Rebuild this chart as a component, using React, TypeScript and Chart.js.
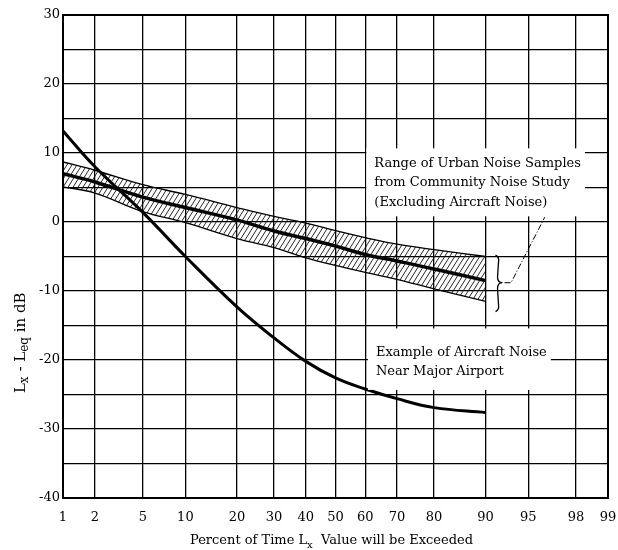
import React, { useEffect, useRef } from 'react';
import { Chart, LinearScale, registerables } from 'chart.js';

Chart.register(...registerables);

// ---- data ----
const xTickPercents = [1, 2, 5, 10, 20, 30, 40, 50, 60, 70, 80, 90, 95, 98, 99];
const percents = [1, 2, 5, 10, 20, 30, 40, 50, 60, 70, 80, 90];
const urbanUpper = [8.7, 7.5, 5.4, 4.0, 2.1, 0.8, -0.15, -1.25, -2.25, -3.2, -4.0, -5.0];
const urbanLower = [5.1, 4.2, 1.5, -0.1, -2.4, -3.7, -5.2, -6.3, -7.3, -8.3, -9.7, -11.5];
const urbanMedian = [7.0, 5.8, 3.6, 2.1, 0.3, -1.3, -2.4, -3.5, -4.7, -5.65, -6.8, -8.5];
const aircraft = [13.2, 8.0, 1.4, -5.0, -12.3, -16.8, -20.2, -22.6, -24.2, -25.6, -26.9, -27.6];

const urbanNote = ['Range of Urban Noise Samples', 'from Community Noise Study', '(Excluding Aircraft Noise)'];
const aircraftNote = ['Example of Aircraft Noise', 'Near Major Airport'];
const xTitle = [{ t: 'Percent of Time L' }, { t: 'x', sub: true }, { t: '  Value will be Exceeded' }];
const yTitle = [{ t: 'L' }, { t: 'x', sub: true }, { t: ' - L' }, { t: 'eq', sub: true }, { t: ' in dB' }];

// annotation anchors in data space (percent, dB)
const urbanNoteAt = { x: 63, y: 8.5 };
const aircraftNoteAt = { x: 63.5, y: -18.9 };
const brace = { x: 91.8, top: -4.8, bottom: -13.0, tip: -8.8 };
const leader = [{ x: 93.3, y: -8.8 }, { x: 96.3, y: 0.7 }];

const FONT = "'DejaVu Serif', 'Liberation Serif', serif";

// inverse normal CDF (Acklam)
function probit(p: number): number {
  const a = [-3.969683028665376e1, 2.209460984245205e2, -2.759285104469687e2, 1.38357751867269e2, -3.066479806614716e1, 2.506628277459239];
  const b = [-5.447609879822406e1, 1.615858368580409e2, -1.556989798598866e2, 6.680131188771972e1, -1.328068155288572e1];
  const c = [-7.784894002430293e-3, -3.223964580411365e-1, -2.400758277161838, -2.549732539343734, 4.374664141464968, 2.938163982698783];
  const d = [7.784695709041462e-3, 3.224671290700398e-1, 2.445134137142996, 3.754408661907416];
  const pl = 0.02425;
  if (p < pl) {
    const q = Math.sqrt(-2 * Math.log(p));
    return (((((c[0] * q + c[1]) * q + c[2]) * q + c[3]) * q + c[4]) * q + c[5]) / ((((d[0] * q + d[1]) * q + d[2]) * q + d[3]) * q + 1);
  }
  if (p > 1 - pl) {
    const q = Math.sqrt(-2 * Math.log(1 - p));
    return -(((((c[0] * q + c[1]) * q + c[2]) * q + c[3]) * q + c[4]) * q + c[5]) / ((((d[0] * q + d[1]) * q + d[2]) * q + d[3]) * q + 1);
  }
  const q = p - 0.5;
  const r = q * q;
  return ((((((a[0] * r + a[1]) * r + a[2]) * r + a[3]) * r + a[4]) * r + a[5]) * q) / (((((b[0] * r + b[1]) * r + b[2]) * r + b[3]) * r + b[4]) * r + 1);
}

class ProbabilityScale extends LinearScale {
  static id = 'probability';
  static defaults = {};
  _zMin = 0;
  _zMax = 1;
  buildTicks() {
    return xTickPercents.map((v) => ({ value: v }));
  }
  configure() {
    super.configure();
    this._zMin = probit(this.min / 100);
    this._zMax = probit(this.max / 100);
  }
  getPixelForValue(value: number) {
    const z = probit(value / 100);
    return this.getPixelForDecimal((z - this._zMin) / (this._zMax - this._zMin));
  }
  getValueForPixel(pixel: number) {
    const target = this._zMin + this.getDecimalForPixel(pixel) * (this._zMax - this._zMin);
    let lo = 0.0001, hi = 0.9999;
    for (let i = 0; i < 50; i++) {
      const mid = (lo + hi) / 2;
      if (probit(mid) < target) lo = mid; else hi = mid;
    }
    return ((lo + hi) / 2) * 100;
  }
}
Chart.register(ProbabilityScale as any);

function makeHatch(): CanvasPattern | string {
  const w = 5, h = 8;
  const c = document.createElement('canvas');
  c.width = w; c.height = h;
  const g = c.getContext('2d');
  if (!g) return 'rgba(0,0,0,0.3)';
  g.strokeStyle = '#111';
  g.lineWidth = 0.9;
  g.beginPath();
  for (const dx of [-w, 0, w]) {
    g.moveTo(dx, h);
    g.lineTo(dx + w, 0);
  }
  g.stroke();
  return g.createPattern(c, 'repeat') || 'rgba(0,0,0,0.3)';
}

type Part = { t: string; sub?: boolean };
function richWidth(ctx: CanvasRenderingContext2D, parts: Part[], size: number) {
  let w = 0;
  for (const p of parts) {
    ctx.font = p.sub ? `${size - 3}px ${FONT}` : `${size}px ${FONT}`;
    w += ctx.measureText(p.t).width;
  }
  return w;
}
function drawRich(ctx: CanvasRenderingContext2D, parts: Part[], cx: number, cy: number, size: number) {
  const total = richWidth(ctx, parts, size);
  let x = cx - total / 2;
  ctx.textAlign = 'left';
  ctx.textBaseline = 'middle';
  for (const p of parts) {
    ctx.font = p.sub ? `${size - 3}px ${FONT}` : `${size}px ${FONT}`;
    ctx.fillText(p.t, x, p.sub ? cy + 4 : cy);
    x += ctx.measureText(p.t).width;
  }
}

const notesPlugin = {
  id: 'notes',
  afterDraw(chart: any) {
    const { ctx, chartArea, scales } = chart;
    const xs = scales.x, ys = scales.y;
    ctx.save();
    // frame
    ctx.strokeStyle = '#000';
    ctx.lineWidth = 2;
    ctx.strokeRect(chartArea.left, chartArea.top, chartArea.right - chartArea.left, chartArea.bottom - chartArea.top);

    ctx.fillStyle = '#000';
    const lh = 19.5;
    const drawNote = (lines: string[], at: { x: number; y: number }, padTop: number, padBottom: number) => {
      const x0 = xs.getPixelForValue(at.x);
      const y0 = ys.getPixelForValue(at.y);
      ctx.font = `13px ${FONT}`;
      const w = Math.max(...lines.map((l) => ctx.measureText(l).width));
      ctx.fillStyle = '#fff';
      ctx.fillRect(x0 - 8, y0 - padTop, w + 12, (lines.length - 1) * lh + padTop + padBottom);
      ctx.fillStyle = '#000';
      ctx.textAlign = 'left';
      ctx.textBaseline = 'middle';
      lines.forEach((l, i) => ctx.fillText(l, x0, y0 + i * lh));
    };
    drawNote(urbanNote, urbanNoteAt, 15, 14);
    drawNote(aircraftNote, aircraftNoteAt, 24, 18);

    // curly brace
    const bx = xs.getPixelForValue(brace.x);
    const bt = ys.getPixelForValue(brace.top);
    const bb = ys.getPixelForValue(brace.bottom);
    const bm = ys.getPixelForValue(brace.tip);
    ctx.strokeStyle = '#000';
    ctx.lineWidth = 1.3;
    ctx.beginPath();
    ctx.moveTo(bx - 3, bt);
    ctx.quadraticCurveTo(bx + 1, bt + 2, bx, bt + 7);
    ctx.lineTo(bx - 1, bm - 6);
    ctx.quadraticCurveTo(bx - 1, bm, bx + 4, bm);
    ctx.quadraticCurveTo(bx - 1, bm, bx - 1, bm + 6);
    ctx.lineTo(bx, bb - 7);
    ctx.quadraticCurveTo(bx + 1, bb - 2, bx - 3, bb);
    ctx.stroke();

    // leader line
    const lx0 = bx + 6;
    const l1x = xs.getPixelForValue(leader[0].x), l1y = ys.getPixelForValue(leader[0].y);
    const l2x = xs.getPixelForValue(leader[1].x), l2y = ys.getPixelForValue(leader[1].y);
    ctx.lineWidth = 1;
    ctx.setLineDash([6, 2, 1, 2]);
    ctx.beginPath();
    ctx.moveTo(lx0, bm);
    ctx.lineTo(l1x, l1y);
    ctx.lineTo(l2x, l2y);
    ctx.stroke();
    ctx.setLineDash([]);

    // axis titles
    ctx.fillStyle = '#000';
    drawRich(ctx, xTitle, (chartArea.left + chartArea.right) / 2 - 4, chartArea.bottom + 43, 13);
    ctx.save();
    ctx.translate(chartArea.left - 42, ys.getPixelForValue(-17.5));
    ctx.rotate(-Math.PI / 2);
    drawRich(ctx, yTitle, 0, 0, 15);
    ctx.restore();
    ctx.restore();
  },
};

export default function App() {
  const ref = useRef<HTMLCanvasElement>(null);
  useEffect(() => {
    const canvas = ref.current;
    if (!canvas) return;
    const hatch = makeHatch();
    const pts = (vals: number[]) => percents.map((p, i) => ({ x: p, y: vals[i] }));
    const base = { pointRadius: 0, borderColor: '#000', tension: 0.4 };
    const chart = new Chart(canvas, {
      type: 'line',
      data: {
        datasets: [
          { ...base, label: 'Urban range upper', data: pts(urbanUpper), borderWidth: 1.3, fill: false },
          { ...base, label: 'Urban range lower', data: pts(urbanLower), borderWidth: 1.3, fill: '-1', backgroundColor: hatch as any },
          { ...base, label: 'Urban median', data: pts(urbanMedian), borderWidth: 3.5, fill: false },
          { ...base, label: 'Aircraft noise', data: pts(aircraft), borderWidth: 3, fill: false },
        ],
      },
      options: {
        responsive: false,
        animation: false,
        events: [],
        layout: { padding: { top: 15, right: 10, left: 0, bottom: 0 } },
        plugins: { legend: { display: false }, tooltip: { enabled: false }, title: { display: false } },
        scales: {
          x: {
            type: 'probability' as any,
            min: 1,
            max: 99,
            grid: { color: '#000', lineWidth: 1.3, drawTicks: false },
            border: { display: false },
            ticks: {
              autoSkip: false,
              maxRotation: 0,
              padding: 12,
              color: '#000',
              font: { family: FONT, size: 13 },
              callback: (v: any) => String(v),
            },
            afterFit: (s: any) => { s.height = 52; s.paddingLeft = 0; s.paddingRight = 0; },
          } as any,
          y: {
            type: 'linear',
            min: -40,
            max: 30,
            grid: { color: '#000', lineWidth: 1.3, drawTicks: false },
            border: { display: false },
            ticks: {
              stepSize: 5,
              autoSkip: false,
              padding: 3,
              color: '#000',
              font: { family: FONT, size: 13 },
              callback: (v: any) => (Number(v) % 10 === 0 ? String(v) : ''),
            },
            afterFit: (s: any) => { s.width = 63; s.paddingTop = 0; s.paddingBottom = 0; },
          },
        },
      },
      plugins: [notesPlugin],
    });
    return () => chart.destroy();
  }, []);
  return (
    <div style={{ position: 'absolute', left: 0, top: 0, width: 618, height: 550, background: '#fff' }}>
      <canvas ref={ref} width={618} height={550} style={{ display: 'block' }} />
    </div>
  );
}
